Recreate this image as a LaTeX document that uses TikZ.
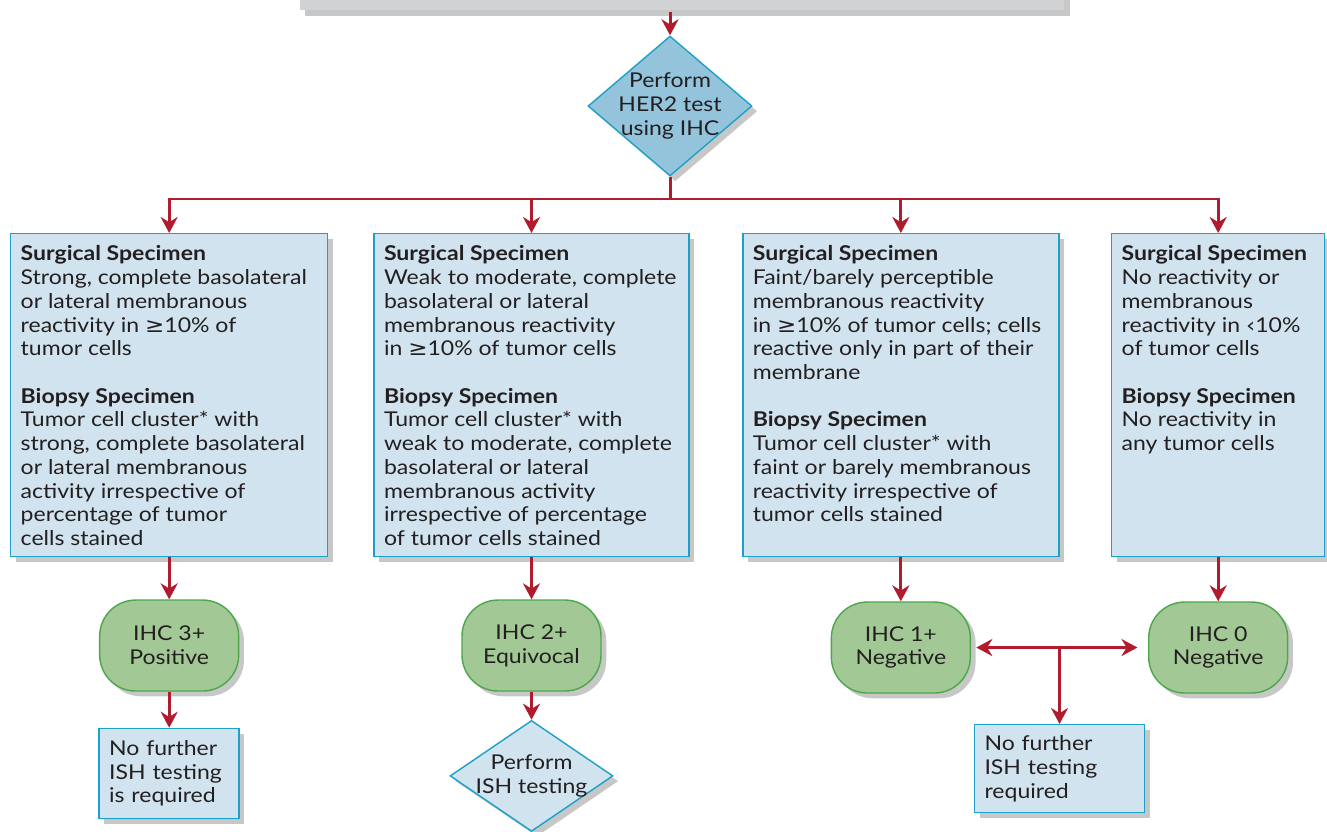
\documentclass[tikz,border=0pt]{standalone}
\usepackage{fontspec}
\setmainfont[FakeStretch=1.13]{Lato}
\newfontfamily\symfont[FakeStretch=1.13]{DejaVu Sans}
\usepackage{xcolor}
\definecolor{colorArrow}{HTML}{B01C2E}
\definecolor{colorText}{HTML}{231F20}
\definecolor{colorBoxFill}{HTML}{D1E3EE}
\definecolor{colorBoxLine}{HTML}{1BA1C9}
\definecolor{colorTestFill}{HTML}{94C4DB}
\definecolor{colorResultFill}{HTML}{A2C995}
\definecolor{colorResultLine}{HTML}{4CA64A}
\definecolor{colorTop}{HTML}{D1D2D4}
\usetikzlibrary{arrows.meta, positioning, shapes.geometric, shadows}
\newcommand{\symGeq}{{\symfont ≥}}
\newcommand{\symLt}{{\symfont ‹}}
\newcommand{\spectext}[2]{\parbox[t][5.98cm][t]{#1}{\raggedright #2}}
\tikzset{
  softshadow/.style={drop shadow={shadow xshift=3pt, shadow yshift=-3pt, opacity=0.22, fill=black}},
  specbox/.style={draw=colorBoxLine, fill=colorBoxFill, line width=0.8pt, inner xsep=0.2cm, inner ysep=0.24cm, softshadow},
  notebox/.style={draw=colorBoxLine, fill=colorBoxFill, line width=0.8pt, align=left, inner xsep=0.2cm, minimum height=1.8cm, softshadow},
  test/.style={diamond, draw=colorBoxLine, line width=0.8pt, align=center, inner sep=-20pt, softshadow},
  result/.style={rectangle, rounded corners=0.72cm, draw=colorResultLine, fill=colorResultFill, line width=0.8pt, align=center, minimum width=2.78cm, minimum height=1.82cm, softshadow},
  topbox/.style={fill=colorTop, minimum width=15.3cm, minimum height=1.5cm, softshadow}
}

\begin{document}
\begin{tikzpicture}[x=0.02cm, y=-0.02cm, >={Stealth[length=0.32cm, width=0.34cm]}, line width=0.06cm, node distance=0.84cm, every node/.style={text=colorText, font=\fontsize{11.6}{13.5}\selectfont}]
\useasboundingbox (0,0) rectangle (1327,831);
\node[topbox, anchor=south] (top) at (682,12) {};
\node[test, fill=colorTestFill, minimum width=3.28cm, minimum height=2.8cm] (her2) at (670,106) {Perform\\HER2 test\\using IHC};
\coordinate (bus) at (670,199);
\node[specbox, anchor=north west] (s3) at (10,233) {\spectext{5.94cm}{\textbf{Surgical Specimen}\\Strong, complete basolateral\\or lateral membranous\\reactivity in \symGeq10\% of\\tumor cells\\[\baselineskip]\textbf{Biopsy Specimen}\\Tumor cell cluster* with\\strong, complete basolateral\\or lateral membranous\\activity irrespective of\\percentage of tumor\\cells stained}};
\node[specbox, right=0.90cm of s3] (s2) {\spectext{5.90cm}{\textbf{Surgical Specimen}\\Weak to moderate, complete\\basolateral or lateral\\membranous reactivity\\in \symGeq10\% of tumor cells\\[\baselineskip]\textbf{Biopsy Specimen}\\Tumor cell cluster* with\\weak to moderate, complete\\basolateral or lateral\\membranous activity\\irrespective of percentage\\of tumor cells stained}};
\node[specbox, right=1.05cm of s2] (s1) {\spectext{5.92cm}{\textbf{Surgical Specimen}\\Faint/barely perceptible\\membranous reactivity\\in \symGeq10\% of tumor cells; cells\\reactive only in part of their\\membrane\\[\baselineskip]\textbf{Biopsy Specimen}\\Tumor cell cluster* with\\faint or barely membranous\\reactivity irrespective of\\tumor cells stained}};
\node[specbox, right=1.03cm of s1] (s0) {\spectext{3.86cm}{\textbf{Surgical Specimen}\\No reactivity or\\membranous\\reactivity in \symLt10\%\\of tumor cells\\[\baselineskip]\textbf{Biopsy Specimen}\\No reactivity in\\any tumor cells}};
\node[result, below=of s3] (ihc3) {IHC 3+\\Positive};
\node[result, below=of s2] (ihc2) {IHC 2+\\Equivocal};
\node[result, below=0.88cm of s1] (ihc1) {IHC 1+\\Negative};
\node[result, below=0.88cm of s0] (ihc0) {IHC 0\\Negative};
\node[notebox, text width=2.4cm, below=0.72cm of ihc3] (noish3) {No further\\ISH testing\\is required};
\node[test, fill=colorBoxFill, minimum width=3.26cm, minimum height=2.22cm, below=0.56cm of ihc2] (ish) {Perform\\ISH testing};
\draw [<->, colorArrow, shorten <=3pt, shorten >=6pt] (ihc1) -- coordinate[midway] (split) (ihc0);
\node[notebox, text width=3.0cm, minimum height=1.76cm, anchor=north] (noish) at (split |- 0,724) {No further\\ISH testing\\required};
\draw [->, colorArrow] (her2 |- top.south) -- (her2);
\draw [colorArrow] (her2) -- (bus);
\draw [colorArrow, line cap=rect] (bus -| s3) -- (bus -| s0);
\foreach \s in {s3, s2, s1, s0}
  \draw [->, colorArrow] (bus -| \s) -- (\s);
\draw [->, colorArrow] (s3) edge (ihc3) (s2) edge (ihc2) (s1) edge (ihc1) (s0) edge (ihc0);
\draw [->, colorArrow] (ihc3) edge (noish3) (ihc2) edge (ish);
\draw [->, colorArrow] (split) -- (noish);
\end{tikzpicture}
\end{document}
